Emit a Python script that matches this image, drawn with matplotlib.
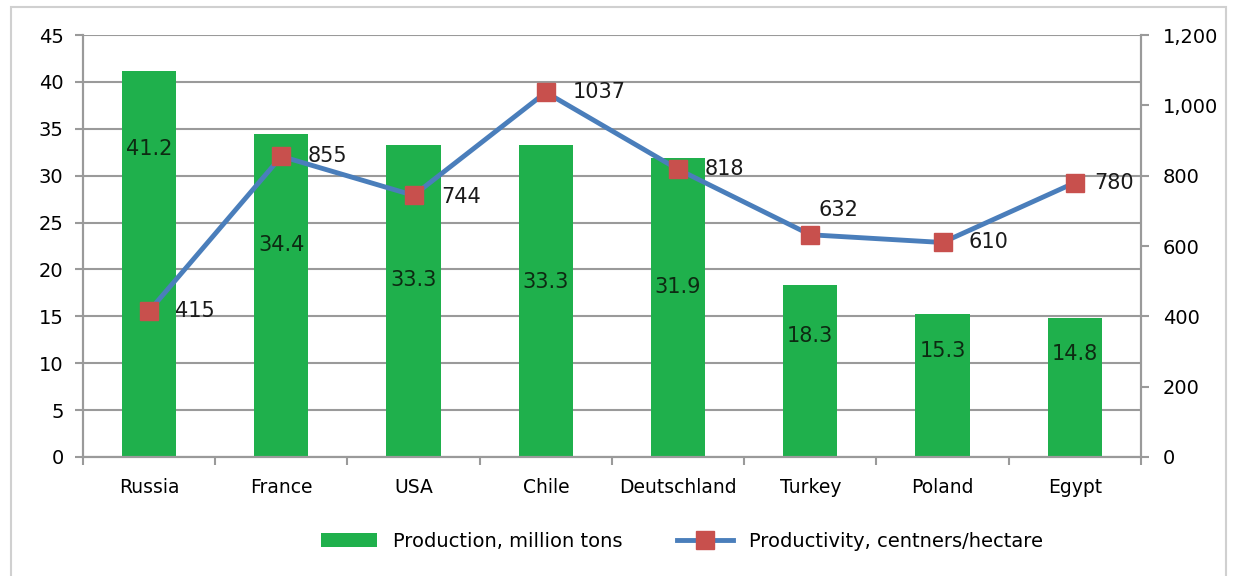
import matplotlib
matplotlib.use('Agg')
from matplotlib import pyplot as plt
from matplotlib.patches import Rectangle
import numpy as np

countries = ['Russia', 'France', 'USA', 'Chile', 'Deutschland', 'Turkey', 'Poland', 'Egypt']
production = [41.2, 34.4, 33.3, 33.3, 31.9, 18.3, 15.3, 14.8]
productivity = [415, 855, 744, 1037, 818, 632, 610, 780]

# where the bar labels sit (left-axis units), as placed in the original
bar_label_y = [32.8, 22.6, 18.9, 18.7, 18.1, 12.9, 11.3, 11.0]
# offsets of the line labels in points (dx, dy)
line_label_off = [(19, 0), (19, 0), (20, -1), (19, 0), (19, 0), (6, 18), (19, 0), (14, 0)]


def main():
    plt.rcParams['font.family'] = ['DejaVu Sans']
    fig = plt.figure(figsize=(12.33, 5.76), dpi=100)
    fig.patches.append(Rectangle((0.009, -0.01), 0.985, 0.998, transform=fig.transFigure,
                                 fill=False, edgecolor='#d0d0d0', lw=1.5))

    ax = fig.add_axes([0.0673, 0.2066, 0.858, 0.7326])
    ax2 = ax.twinx()

    x = np.arange(len(countries))
    grey = '#9a9a9a'

    bars = ax.bar(x, production, width=0.41, color='#1fb04c', zorder=2,
                  label='Production, million tons')
    for xi, v, ly in zip(x, production, bar_label_y):
        ax.text(xi, ly, '{:.1f}'.format(v), ha='center', va='center',
                fontsize=15, color='#0d2a12', zorder=3)

    line, = ax2.plot(x, productivity, color='#4a7ebb', lw=3.5, marker='s', ms=13,
                     mfc='#c8504d', mec='#c8504d', zorder=4,
                     label='Productivity, centners/hectare')
    for xi, v, off in zip(x, productivity, line_label_off):
        ax2.annotate(str(v), (xi, v), xytext=off, textcoords='offset points',
                     ha='left', va='center', fontsize=15, color='#1a1a1a')

    ax.set_xlim(-0.5, len(countries) - 0.5)
    ax.set_ylim(0, 45)
    ax.set_yticks(np.arange(0, 46, 5))
    ax2.set_ylim(0, 1200)
    ax2.set_yticks(np.arange(0, 1201, 200))
    ax2.set_yticklabels(['0', '200', '400', '600', '800', '1,000', '1,200'])

    ax.grid(axis='y', color=grey, lw=1.5, zorder=0)
    ax.set_axisbelow(True)

    ax.set_xticks(x)
    ax.set_xticklabels(countries, fontsize=13.5)
    ax.set_xticks(np.arange(-0.5, len(countries), 1), minor=True)
    ax.tick_params(axis='x', which='major', length=0, pad=15)
    ax.tick_params(axis='x', which='minor', length=6, color=grey, width=1.5)
    ax.tick_params(axis='y', labelsize=14, length=6, color=grey, width=1.5, pad=8)
    ax2.tick_params(axis='y', labelsize=14, length=6, color=grey, width=1.5, pad=10)

    for a in (ax, ax2):
        a.spines['top'].set_visible(False)
        for s in ('left', 'right', 'bottom'):
            a.spines[s].set_color(grey)
            a.spines[s].set_linewidth(1.5)

    fig.legend(handles=[bars, line], loc='center', bbox_to_anchor=(0.553, 0.06),
               ncol=2, frameon=False, fontsize=14,
               columnspacing=2.8, handlelength=2.9, handletextpad=0.8)

    fig.savefig('out.png', dpi=100)


if __name__ == '__main__':
    main()
